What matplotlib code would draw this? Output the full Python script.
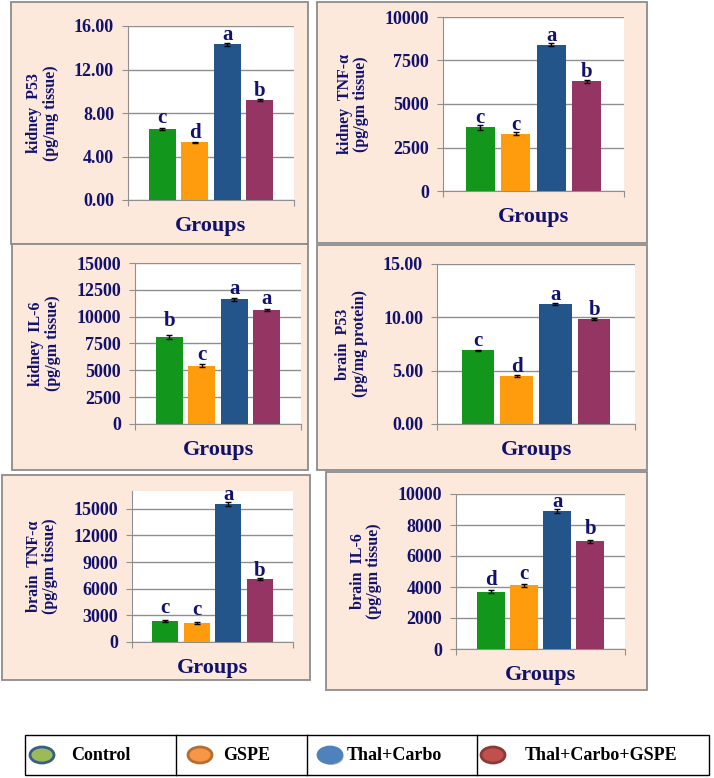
import matplotlib
matplotlib.use('Agg')
import matplotlib.pyplot as plt
from matplotlib.patches import Rectangle, Ellipse
from matplotlib.ticker import MultipleLocator, FormatStrFormatter

# ---- data ----
groups = ["Control", "GSPE", "Thal+Carbo", "Thal+Carbo+GSPE"]

kidney_p53 = [6.5, 5.3, 14.3, 9.2]
kidney_p53_err = [0.1, 0.05, 0.1, 0.1]
kidney_p53_sig = ["c", "d", "a", "b"]

kidney_tnf = [3650, 3300, 8400, 6300]
kidney_tnf_err = [120, 90, 90, 100]
kidney_tnf_sig = ["c", "c", "a", "b"]

kidney_il6 = [8100, 5450, 11600, 10600]
kidney_il6_err = [180, 130, 120, 100]
kidney_il6_sig = ["b", "c", "a", "a"]

brain_p53 = [6.9, 4.5, 11.25, 9.85]
brain_p53_err = [0.06, 0.06, 0.06, 0.06]
brain_p53_sig = ["c", "d", "a", "b"]

brain_tnf = [2400, 2100, 15550, 7100]
brain_tnf_err = [120, 100, 200, 150]
brain_tnf_sig = ["c", "c", "a", "b"]

brain_il6 = [3700, 4100, 8900, 6950]
brain_il6_err = [110, 120, 150, 90]
brain_il6_sig = ["d", "c", "a", "b"]

# ---- style ----
bar_colors = ["#12961c", "#ff9c0e", "#23548a", "#953563"]
legend_face = ["#9bbb59", "#f79646", "#4f81bd", "#c0504d"]
legend_edge = ["#385d8a", "#b66d31", "#4f81bd", "#8c3836"]
NAVY = "#12126e"
PEACH = "#fce9db"
BORDER = "#8c8c8c"
GRID = "#8f8f8f"

plt.rcParams['font.family'] = ['Liberation Serif', 'DejaVu Serif']
plt.rcParams['font.weight'] = 'bold'
plt.rcParams['axes.labelweight'] = 'bold'

W, H = 714, 778
fig = plt.figure(figsize=(W / 100, H / 100), dpi=100)
bg = fig.add_axes([0, 0, 1, 1])
bg.set_xlim(0, W)
bg.set_ylim(H, 0)
bg.axis('off')


def frac(x0, y0, x1, y1):
    return [x0 / W, 1 - y1 / H, (x1 - x0) / W, (y1 - y0) / H]


# (values, errors, letters, ylabel, ymax, step, fmt, panel box px, axes box px, letter gaps px)
panels = [
    (kidney_p53, kidney_p53_err, kidney_p53_sig, "kidney  P53\n(pg/mg tissue)", 16, 4, "%.2f",
     (11, 2, 308, 244), (128, 26, 294, 200), [6, 4, 4, 4]),
    (kidney_tnf, kidney_tnf_err, kidney_tnf_sig, "kidney  TNF-α\n(pg/gm tissue)", 10000, 2500, "%d",
     (317, 2, 647, 243), (443, 17, 624, 191), [4, 4, 4, 4]),
    (kidney_il6, kidney_il6_err, kidney_il6_sig, "kidney  IL-6\n(pg/gm tissue)", 15000, 2500, "%d",
     (12, 244, 308, 470), (135, 263, 301, 424), [11, 6, 5, 6]),
    (brain_p53, brain_p53_err, brain_p53_sig, "brain  P53\n(pg/mg protein)", 15, 5, "%.2f",
     (317, 245, 647, 470), (437, 264, 635, 424), [4, 4, 4, 4]),
    (brain_tnf, brain_tnf_err, brain_tnf_sig, "brain  TNF-α\n(pg/gm tissue)", 17000, 3000, "%d",
     (2, 475, 310, 680), (132, 491, 293, 642), [8, 8, 4, 3]),
    (brain_il6, brain_il6_err, brain_il6_sig, "brain  IL-6\n(pg/gm tissue)", 10000, 2000, "%d",
     (326, 472, 647, 690), (456, 494, 625, 649), [7, 6, 4, 7]),
]

x = list(range(len(groups)))
for vals, errs, sig, ylab, ymax, step, fmt, box, axbox, gaps in panels:
    bx0, by0, bx1, by1 = box
    bg.add_patch(Rectangle((bx0, by0), bx1 - bx0, by1 - by0, fc=PEACH, ec=BORDER, lw=1.3))

    ax = fig.add_axes(frac(*axbox))
    ax.bar(x, vals, width=0.83, color=bar_colors, yerr=errs, capsize=2.5,
           error_kw=dict(elinewidth=1, ecolor='black', capthick=1), zorder=3)
    ax.set_xlim(-1.05, 4.05)
    ax.set_ylim(0, ymax)
    ax.yaxis.set_major_locator(MultipleLocator(step))
    ax.yaxis.set_major_formatter(FormatStrFormatter(fmt))
    ax.yaxis.grid(True, color=GRID, lw=1)
    ax.set_axisbelow(True)
    for s in ['top', 'right']:
        ax.spines[s].set_visible(False)
    for s in ['left', 'bottom']:
        ax.spines[s].set_color(GRID)
    ax.set_xticks([-1.05, 4.05])
    ax.set_xticklabels([])
    ax.tick_params(axis='x', length=4, color=GRID)
    ax.tick_params(axis='y', length=4, color=GRID, labelsize=13, labelcolor=NAVY, pad=6)
    ax.set_ylabel(ylab, fontsize=11.5, color=NAVY, labelpad=11, linespacing=1.05)
    ax.set_xlabel("Groups", fontsize=16, color=NAVY, labelpad=4)

    for i, v in enumerate(vals):
        ax.annotate(sig[i], (i, v), xytext=(0, gaps[i]), textcoords='offset pixels',
                    ha='center', va='baseline', fontsize=15, color=NAVY)

# ---- legend ----
bg.add_patch(Rectangle((25, 735), 684, 40, fc='white', ec='black', lw=1))
for xd in [176, 307, 477]:
    bg.plot([xd, xd], [735, 775], color='black', lw=1)

ell_x = [42, 200, 330, 493]
txt_x = [71, 223, 347, 525]
for i, g in enumerate(groups):
    if i == 2:
        bg.add_patch(Ellipse((ell_x[i] + 1.5, 757), 24, 16, fc='#9a9a9a', ec='none', alpha=0.6))
    bg.add_patch(Ellipse((ell_x[i], 755), 24, 16, fc=legend_face[i], ec=legend_edge[i], lw=2))
    bg.text(txt_x[i], 755, g, va='center', ha='left', fontsize=13, color='black')

fig.savefig('out.png', dpi=100)
